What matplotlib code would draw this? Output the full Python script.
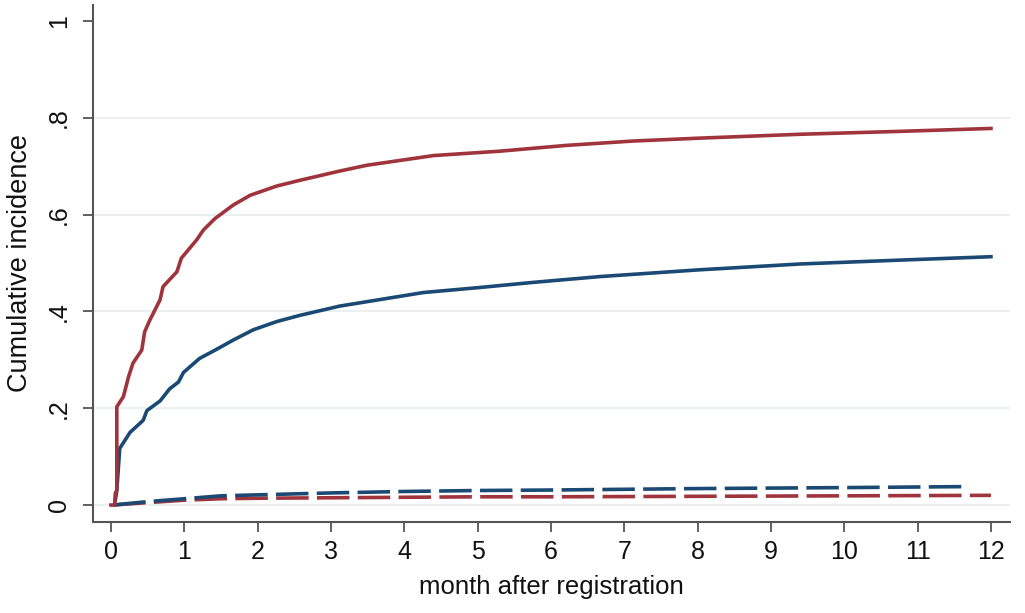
import numpy as np
import matplotlib.pyplot as plt

plt.rcParams['font.family'] = ['Liberation Sans', 'DejaVu Sans']

# cumulative incidence (month, value)
red_x = [0.0, 0.05, 0.06, 0.08, 0.08, 0.17, 0.24, 0.30, 0.42, 0.46, 0.53, 0.67,
         0.71, 0.90, 0.96, 1.17, 1.26, 1.42, 1.67, 1.90, 2.26, 2.58, 3.12,
         3.49, 4.4, 5.3, 6.21, 7.12, 8.03, 9.4, 10.76, 12.0]
red_y = [0.0, 0.0, 0.025, 0.03, 0.203, 0.224, 0.265, 0.293, 0.320, 0.358, 0.382,
         0.424, 0.451, 0.482, 0.510, 0.548, 0.568, 0.592, 0.620, 0.640, 0.659,
         0.671, 0.690, 0.702, 0.722, 0.731, 0.743, 0.752, 0.758, 0.766, 0.772, 0.778]

blue_x = [0.06, 0.07, 0.08, 0.12, 0.26, 0.44, 0.49, 0.67, 0.80, 0.92, 0.99, 1.21,
          1.42, 1.67, 1.94, 2.26, 2.58, 3.12, 4.26, 5.0, 5.76, 6.67, 8.03,
          9.4, 10.76, 12.0]
blue_y = [0.01, 0.02, 0.03, 0.117, 0.150, 0.175, 0.195, 0.215, 0.240, 0.254, 0.274,
          0.303, 0.320, 0.341, 0.362, 0.379, 0.392, 0.411, 0.439, 0.449, 0.460,
          0.472, 0.486, 0.498, 0.506, 0.513]

red_dash_x = [0.03, 0.5, 1.0, 1.5, 2.0, 3.0, 4.0, 5.0, 6.0, 8.0, 10.0, 12.0]
red_dash_y = [0.0, 0.005, 0.010, 0.013, 0.014, 0.015, 0.016, 0.017, 0.017, 0.018, 0.019, 0.020]

blue_dash_x = [0.03, 0.5, 1.0, 1.5, 2.0, 3.0, 4.0, 5.0, 6.0, 8.0, 10.0, 11.6]
blue_dash_y = [0.0, 0.007, 0.013, 0.019, 0.021, 0.025, 0.028, 0.030, 0.031, 0.034, 0.036, 0.038]

red = '#a0343d'
blue = '#1a4a73'

fig = plt.figure(figsize=(10.25, 6.13), dpi=100)
ax = fig.add_axes([0.0907, 0.1485, 0.8947, 0.8433])

lw = 2.6
ax.plot(red_dash_x, red_dash_y, color=red, lw=lw, dashes=(9, 2.3))
ax.plot(blue_dash_x, blue_dash_y, color=blue, lw=lw, dashes=(9, 2.3))
ax.plot(blue_x, blue_y, color=blue, lw=lw)
ax.plot(red_x, red_y, color=red, lw=lw)

ax.set_xlim(-0.245, 12.26)
ax.set_ylim(-0.035, 1.033)

ax.set_xticks(range(13))
ax.set_yticks([0, 0.2, 0.4, 0.6, 0.8, 1])
ax.set_yticklabels(['0', '.2', '.4', '.6', '.8', '1'], rotation=90, va='center')

for g in [0, 0.2, 0.4, 0.6, 0.8]:
    ax.axhline(g, color='#e6eff1', lw=1.3, zorder=0)

for s in ['top', 'right']:
    ax.spines[s].set_visible(False)
for s in ['left', 'bottom']:
    ax.spines[s].set_color('#555555')
    ax.spines[s].set_linewidth(1.5)

ax.tick_params(axis='both', direction='out', length=7, width=1.3, color='#555555',
               labelsize=18, labelcolor='#111111')
ax.tick_params(axis='x', pad=6)
ax.tick_params(axis='y', pad=9)

ax.set_xlabel('month after registration', fontsize=18.5, color='#111111', labelpad=8)
ax.set_ylabel('Cumulative incidence', fontsize=19.5, color='#111111', labelpad=10)

fig.savefig('out.png', dpi=100)
